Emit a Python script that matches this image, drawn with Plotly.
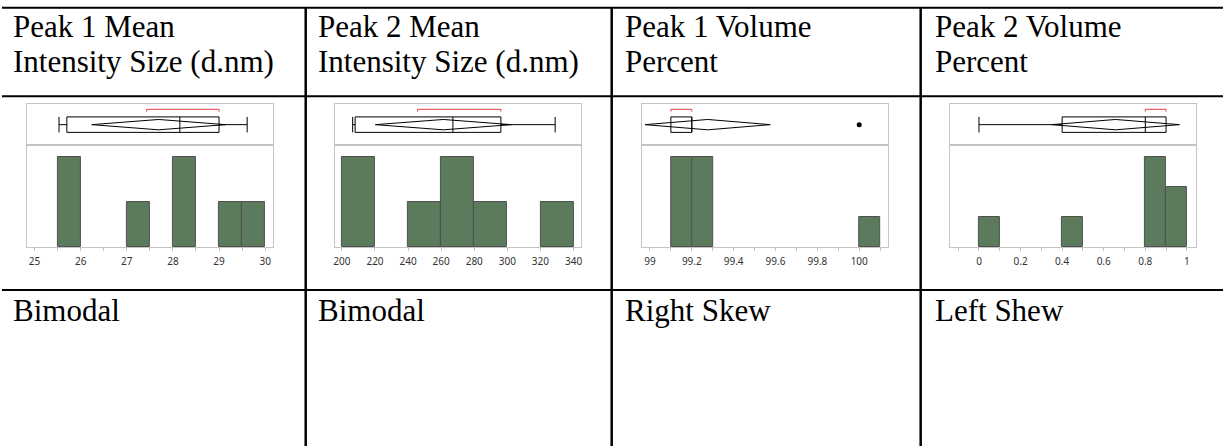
import plotly.graph_objects as go

W, H = 1225, 446

# ---- table text ----
header_line1 = ["Peak 1 Mean", "Peak 2 Mean", "Peak 1 Volume", "Peak 2 Volume"]
header_line2 = ["Intensity Size (d.nm)", "Intensity Size (d.nm)", "Percent", "Percent"]
shape_notes = ["Bimodal", "Bimodal", "Right Skew", "Left Shew"]

# ---- histogram bins: left edge, width and count ----
bin_width = [0.5, 20, 0.1, 0.1]
bin_left = [
    [25.5, 27.0, 28.0, 29.0, 29.5],
    [200, 240, 260, 280, 320],
    [99.1, 99.2, 100.0],
    [0.0, 0.4, 0.8, 0.9],
]
bin_count = [
    [2, 1, 2, 1, 1],
    [2, 1, 2, 1, 1],
    [3, 3, 1],
    [1, 1, 3, 2],
]

# ---- outlier box plot summaries ----
whisker_low = [25.53, 206.5, 99.1, 0.0]
quartile_1 = [25.70, 208.0, 99.1, 0.4]
median = [28.15, 267.1, 99.2, 0.8]
quartile_3 = [29.0, 296.1, 99.2, 0.9]
whisker_high = [29.61, 328.9, 99.2, 0.9]
outliers = [[], [], [100.0], []]

# mean diamond: mean and its 95% confidence limits
mean = [27.69, 261.3, 99.276, 0.657]
mean_lower = [26.24, 220.2, 98.977, 0.350]
mean_upper = [29.14, 302.4, 99.575, 0.964]

# shortest half bracket
short_half_low = [27.43, 245.7, 99.1, 0.8]
short_half_high = [29.0, 296.1, 99.2, 0.9]

# ---- axis settings ----
x_ranges = [[24.834, 30.166], [195.77, 344.4], [98.963, 100.138], [-0.140, 1.043]]
tick_start = [25, 200, 99, 0]
tick_step = [1, 20, 0.2, 0.2]
minor_step = [0.5, None, 0.1, 0.1]

# ---- geometry (pixels) ----
chart_left = [25, 334, 642.3, 951]
chart_width = 246.7
box_top, divider, hist_bottom = 104.3, 145.0, 247.3
col_lines = [304.7, 611.7, 921.7]
text_left = [9, 315, 623.5, 934.5]

BAR_FILL = "#5c7a5c"
BAR_EDGE = "#505050"
FRAME = "#c4c4c4"
RED = "#e33b48"


def px_x(p):
    return p / W


def px_y(p):
    return 1 - p / H


fig = go.Figure()
layout_axes = {}

HB = 0.19     # half height of box
HD = 0.127    # half height of mean diamond
BR_TOP, BR_END = 0.877, 0.82

for i in range(4):
    hk, bk = 2 * i + 1, 2 * i + 2
    hx = "x" if hk == 1 else f"x{hk}"
    hy = "y" if hk == 1 else f"y{hk}"
    bx, by = f"x{bk}", f"y{bk}"

    # histogram bars
    w = bin_width[i]
    fig.add_trace(go.Bar(
        x=[b + w / 2 for b in bin_left[i]], y=bin_count[i], width=w,
        marker=dict(color=BAR_FILL, line=dict(color=BAR_EDGE, width=1)),
        xaxis=hx, yaxis=hy, showlegend=False, hoverinfo="skip",
    ))

    c = 0.5
    line = dict(color="black", width=1)
    # box
    q1, q3, md = quartile_1[i], quartile_3[i], median[i]
    fig.add_trace(go.Scatter(
        x=[q1, q3, q3, q1, q1], y=[c - HB, c - HB, c + HB, c + HB, c - HB],
        mode="lines", line=line, xaxis=bx, yaxis=by, showlegend=False, hoverinfo="skip"))
    fig.add_trace(go.Scatter(
        x=[md, md], y=[c - HB, c + HB], mode="lines", line=line,
        xaxis=bx, yaxis=by, showlegend=False, hoverinfo="skip"))
    # whiskers with caps
    wx, wy = [], []
    if whisker_low[i] < q1:
        wx += [whisker_low[i], q1, None, whisker_low[i], whisker_low[i], None]
        wy += [c, c, None, c - HB, c + HB, None]
    if whisker_high[i] > q3:
        wx += [q3, whisker_high[i], None, whisker_high[i], whisker_high[i], None]
        wy += [c, c, None, c - HB, c + HB, None]
    if wx:
        fig.add_trace(go.Scatter(x=wx, y=wy, mode="lines", line=line,
                                 xaxis=bx, yaxis=by, showlegend=False, hoverinfo="skip"))
    # mean diamond
    m, lo, hi = mean[i], mean_lower[i], mean_upper[i]
    fig.add_trace(go.Scatter(
        x=[lo, m, hi, m, lo], y=[c, c + HD, c, c - HD, c],
        mode="lines", line=line, xaxis=bx, yaxis=by, showlegend=False, hoverinfo="skip"))
    # shortest half bracket
    sl, sh = short_half_low[i], short_half_high[i]
    fig.add_trace(go.Scatter(
        x=[sl, sl, sh, sh], y=[BR_END, BR_TOP, BR_TOP, BR_END],
        mode="lines", line=dict(color=RED, width=1),
        xaxis=bx, yaxis=by, showlegend=False, hoverinfo="skip"))
    # outlier points
    if outliers[i]:
        fig.add_trace(go.Scatter(
            x=outliers[i], y=[c] * len(outliers[i]), mode="markers",
            marker=dict(color="black", size=5),
            xaxis=bx, yaxis=by, showlegend=False, hoverinfo="skip"))

    xdom = [px_x(chart_left[i]), px_x(chart_left[i] + chart_width)]
    minor = dict(ticks="outside", ticklen=3, tickcolor=FRAME, dtick=minor_step[i],
                 tick0=tick_start[i], showgrid=False) if minor_step[i] else None
    hax = dict(domain=xdom, range=x_ranges[i], anchor=hy,
               tick0=tick_start[i], dtick=tick_step[i], ticks="outside", ticklen=3,
               tickcolor=FRAME, showline=True, linecolor=FRAME, linewidth=1, mirror=True,
               showgrid=False, zeroline=False, ticklabelstandoff=2,
               tickfont=dict(family="Noto Sans", size=10, color="#333333"))
    if minor:
        hax["minor"] = minor
    layout_axes["xaxis" if hk == 1 else f"xaxis{hk}"] = hax
    layout_axes["yaxis" if hk == 1 else f"yaxis{hk}"] = dict(
        domain=[px_y(hist_bottom), px_y(divider)], anchor=hx,
        range=[0, max(bin_count[i]) * 1.137], showticklabels=False, ticks="",
        showgrid=False, zeroline=False, showline=True, linecolor=FRAME,
        linewidth=1, mirror=True)
    layout_axes[f"xaxis{bk}"] = dict(
        domain=xdom, range=x_ranges[i], anchor=by, matches=hx,
        showticklabels=False, ticks="", showgrid=False, zeroline=False,
        showline=True, linecolor=FRAME, linewidth=1, mirror=True)
    layout_axes[f"yaxis{bk}"] = dict(
        domain=[px_y(divider), px_y(box_top)], anchor=bx, range=[0, 1],
        showticklabels=False, ticks="", showgrid=False, zeroline=False,
        showline=True, linecolor=FRAME, linewidth=1, mirror=True)

# ---- table rules ----
shapes = []
for yy in (7.7, 96.3, 290.0):
    shapes.append(dict(type="line", xref="paper", yref="paper",
                       x0=0, x1=1, y0=px_y(yy), y1=px_y(yy),
                       line=dict(color="black", width=2)))
for xx in col_lines:
    shapes.append(dict(type="line", xref="paper", yref="paper",
                       x0=px_x(xx), x1=px_x(xx), y0=px_y(7.7), y1=0,
                       line=dict(color="black", width=2.5)))

# ---- table text ----
FONT = dict(family="Liberation Serif, Times New Roman, serif", size=31, color="black")
annotations = []
for i in range(4):
    for txt, base in ((header_line1[i], 36.7), (header_line2[i], 71.7), (shape_notes[i], 320.7)):
        annotations.append(dict(
            text=txt, xref="paper", yref="paper", x=px_x(text_left[i]),
            y=px_y(base - 10.5), xanchor="left", yanchor="middle",
            showarrow=False, font=FONT))

fig.update_layout(
    width=W, height=H, margin=dict(l=0, r=0, t=0, b=0),
    paper_bgcolor="white", plot_bgcolor="white",
    bargap=0, barmode="overlay", showlegend=False,
    shapes=shapes, annotations=annotations, **layout_axes,
)

fig.write_html("out.html")
